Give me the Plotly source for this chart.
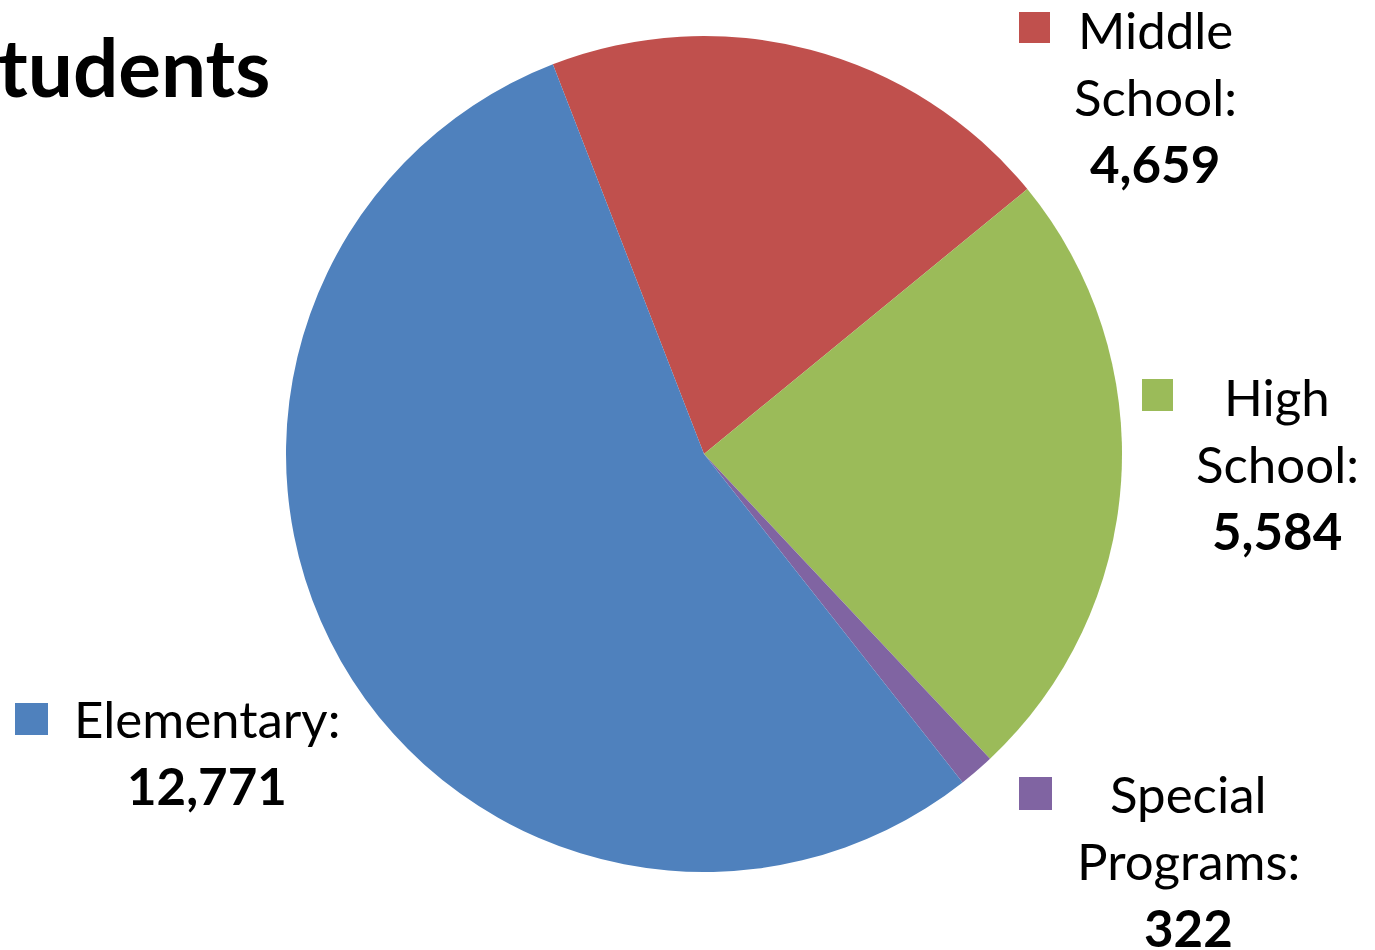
import plotly.graph_objects as go

W, H = 1375, 950

labels = ['Middle School', 'High School', 'Special Programs', 'Elementary']
values = [4659, 5584, 322, 12771]
colors = ['#C0504D', '#9BBB59', '#8064A2', '#4F81BD']
title_text = 'tudents'

# label lines for each slice: (text, bold)
label_lines = {
    'Middle School': [('Middle', False), ('School:', False), ('4,659', True)],
    'High School': [('High', False), ('School:', False), ('5,584', True)],
    'Special Programs': [('Special', False), ('Programs:', False), ('322', True)],
    'Elementary': [('Elementary:', False), ('12,771', True)],
}

FONT = 'Lato'
FS = 51


def px(x):
    return x / W


def py(y):
    return 1 - y / H


# first slice starts a bit left of 12 o'clock
rotation = -21.2

fig = go.Figure(go.Pie(
    labels=labels,
    values=values,
    sort=False,
    direction='clockwise',
    rotation=rotation,
    marker=dict(colors=colors, line=dict(width=0)),
    textinfo='none',
    hoverinfo='label+value',
    showlegend=False,
    domain=dict(x=[px(286), px(1122)], y=[py(872), py(36)]),
))

# label placement (block center x, first baseline y, square box)
placement = {
    'Middle School': (1155, 50, (1019, 12, 1050, 43)),
    'High School': (1277, 417, (1142, 379, 1173, 411)),
    'Special Programs': (1188, 814, (1019, 777, 1052, 810)),
    'Elementary': (207, 739, (15, 703, 48, 735)),
}
line_gap = 67

annotations = []
shapes = []
for i, name in enumerate(labels):
    cx, base, box = placement[name]
    for j, (txt, bold) in enumerate(label_lines[name]):
        b = base + j * line_gap
        annotations.append(dict(
            x=px(cx), y=py(b - 0.4 * FS),
            xref='paper', yref='paper',
            text='<b>%s</b>' % txt if bold else txt,
            showarrow=False,
            xanchor='center', yanchor='middle',
            font=dict(family=FONT, size=FS, color='black'),
        ))
    x0, y0, x1, y1 = box
    shapes.append(dict(
        type='rect', xref='paper', yref='paper',
        x0=px(x0), x1=px(x1), y0=py(y1), y1=py(y0),
        fillcolor=colors[i], line=dict(width=0),
    ))

annotations.append(dict(
    x=px(-3), y=py(98 - 0.4 * 80), xref='paper', yref='paper',
    text='<b>%s</b>' % title_text,
    showarrow=False, xanchor='left', yanchor='middle', borderpad=0,
    font=dict(family=FONT, size=80, color='black'),
))

fig.update_layout(
    width=W, height=H,
    margin=dict(l=0, r=0, t=0, b=0),
    paper_bgcolor='white',
    plot_bgcolor='white',
    annotations=annotations,
    shapes=shapes,
)

# page body has a default 8px margin; drop it so the figure sits at 0,0
fig.write_html('out.html', config={'displayModeBar': False},
               post_script="document.body.style.margin='0';")
